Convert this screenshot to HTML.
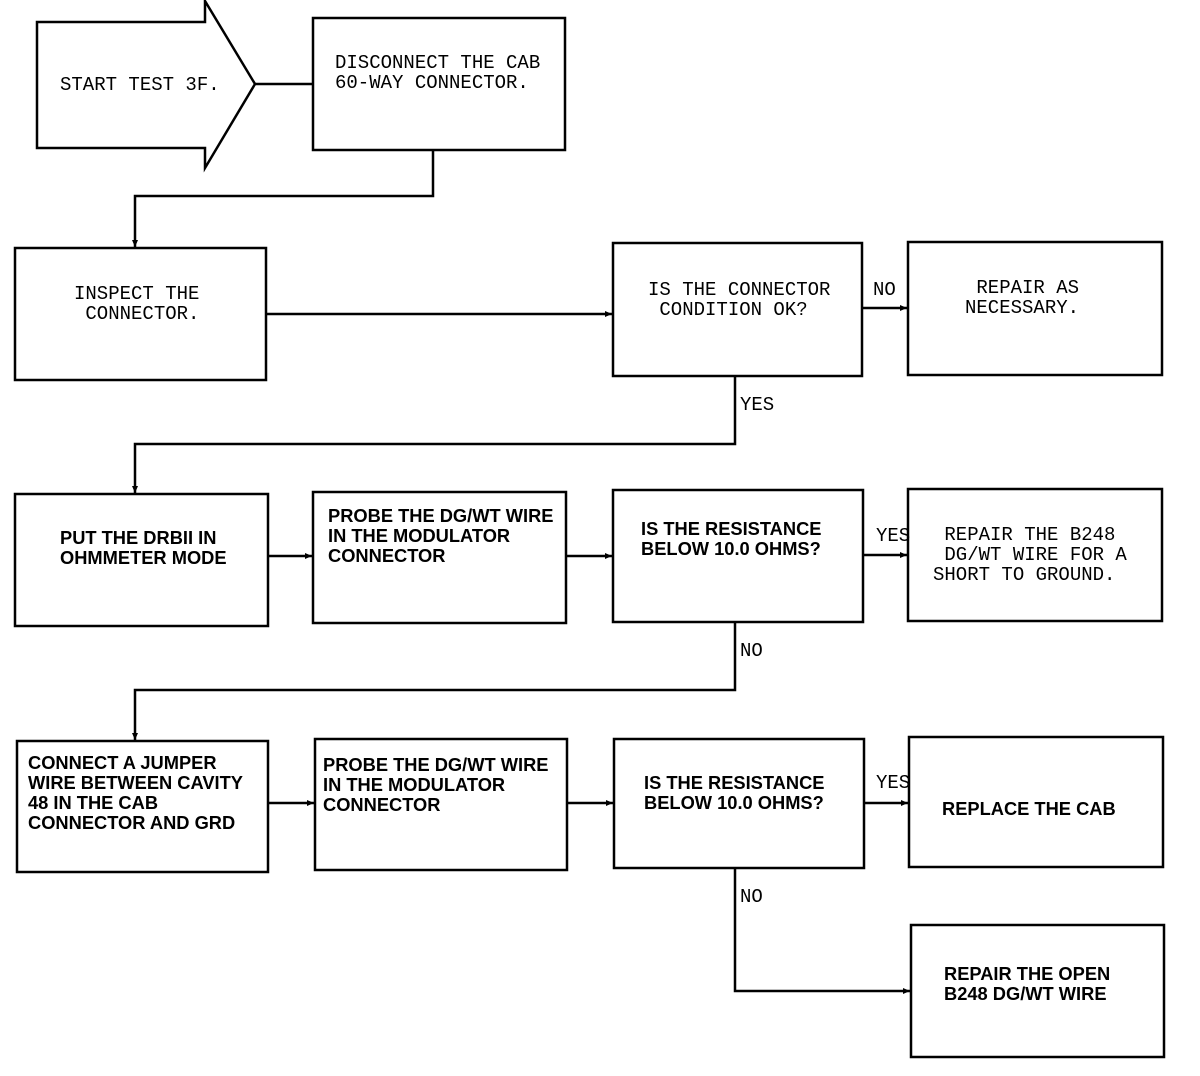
<!DOCTYPE html>
<html><head><meta charset="utf-8"><style>
html,body{margin:0;padding:0;background:#fff;}
body{width:1200px;height:1076px;position:relative;overflow:hidden;}
svg{position:absolute;left:0;top:0;}
.t{position:absolute;font-family:"Liberation Mono",monospace;font-size:19px;line-height:20px;color:#000;white-space:pre;}
.b{position:absolute;font-family:"Liberation Sans",sans-serif;font-weight:bold;font-size:18.3px;line-height:20px;color:#000;white-space:pre;}
</style></head><body>
<svg width="1200" height="1076" viewBox="0 0 1200 1076">
<defs><marker id="a" markerWidth="8" markerHeight="8" refX="7" refY="4" orient="auto" markerUnits="userSpaceOnUse"><path d="M0,1 L7,4 L0,7 z" fill="#000"/></marker></defs>
<g fill="none" stroke="#000" stroke-width="2.5">
<polygon points="37,22 205,22 205,1 255,84 205,168 205,148 37,148"/>
<rect x="313" y="18" width="252" height="132"/>
<rect x="15" y="248" width="251" height="132"/>
<rect x="613" y="243" width="249" height="133"/>
<rect x="908" y="242" width="254" height="133"/>
<rect x="15" y="494" width="253" height="132"/>
<rect x="313" y="492" width="253" height="131"/>
<rect x="613" y="490" width="250" height="132"/>
<rect x="908" y="489" width="254" height="132"/>
<rect x="17" y="741" width="251" height="131"/>
<rect x="315" y="739" width="252" height="131"/>
<rect x="614" y="739" width="250" height="129"/>
<rect x="909" y="737" width="254" height="130"/>
<rect x="911" y="925" width="253" height="132"/>
<polyline points="255,84 313,84"/>
</g>
<g fill="none" stroke="#000" stroke-width="2.5" marker-end="url(#a)">
<polyline points="433,150 433,196 135,196 135,247"/>
<polyline points="266,314 612,314"/>
<polyline points="862,308 907,308"/>
<polyline points="735,376 735,444 135,444 135,493"/>
<polyline points="268,556 312,556"/>
<polyline points="566,556 612,556"/>
<polyline points="863,555 907,555"/>
<polyline points="735,622 735,690 135,690 135,740"/>
<polyline points="268,803 314,803"/>
<polyline points="567,803 613,803"/>
<polyline points="864,803 908,803"/>
<polyline points="735,868 735,991 910,991"/>
</g>
</svg>
<div class="t" style="left:60px;top:75px;">START TEST 3F.</div>
<div class="t" style="left:335px;top:53px;">DISCONNECT THE CAB
60-WAY CONNECTOR.</div>
<div class="t" style="left:74px;top:284px;">INSPECT THE
 CONNECTOR.</div>
<div class="t" style="left:648px;top:280px;">IS THE CONNECTOR
 CONDITION OK?</div>
<div class="t" style="left:873px;top:280px;">NO</div>
<div class="t" style="left:965px;top:278px;"> REPAIR AS
NECESSARY.</div>
<div class="t" style="left:740px;top:395px;">YES</div>
<div class="b" style="left:60px;top:528px;">PUT THE DRBII IN
OHMMETER MODE</div>
<div class="b" style="left:328px;top:506px;">PROBE THE DG/WT WIRE
IN THE MODULATOR
CONNECTOR</div>
<div class="b" style="left:641px;top:519px;">IS THE RESISTANCE
BELOW 10.0 OHMS?</div>
<div class="t" style="left:876px;top:526px;">YES</div>
<div class="t" style="left:933px;top:525px;"> REPAIR THE B248
 DG/WT WIRE FOR A
SHORT TO GROUND.</div>
<div class="t" style="left:740px;top:641px;">NO</div>
<div class="b" style="left:28px;top:753px;">CONNECT A JUMPER
WIRE BETWEEN CAVITY
48 IN THE CAB
CONNECTOR AND GRD</div>
<div class="b" style="left:323px;top:755px;">PROBE THE DG/WT WIRE
IN THE MODULATOR
CONNECTOR</div>
<div class="b" style="left:644px;top:773px;">IS THE RESISTANCE
BELOW 10.0 OHMS?</div>
<div class="t" style="left:876px;top:773px;">YES</div>
<div class="b" style="left:942px;top:799px;">REPLACE THE CAB</div>
<div class="t" style="left:740px;top:887px;">NO</div>
<div class="b" style="left:944px;top:964px;">REPAIR THE OPEN
B248 DG/WT WIRE</div>
</body></html>
